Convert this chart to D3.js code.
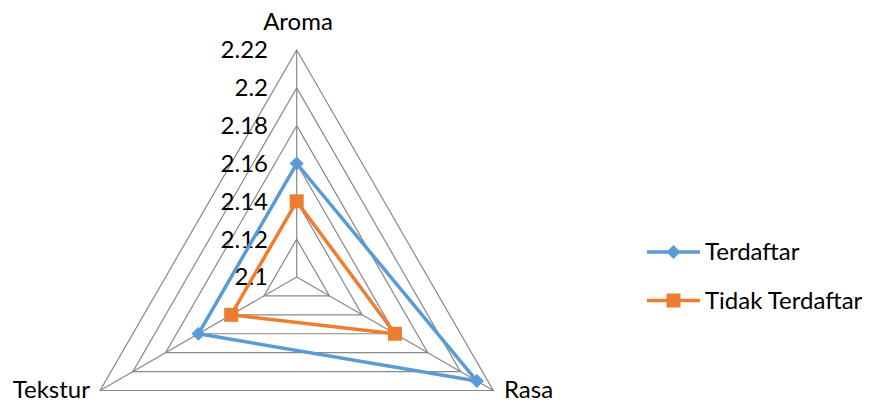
<!DOCTYPE html>
<html><head><meta charset="utf-8">
<script src="https://cdn.jsdelivr.net/npm/d3@7"></script>
<style>body{margin:0;background:#fff}text{font-family:Lato,"Open Sans",sans-serif;fill:#000}</style>
</head><body><svg id="c" width="869" height="403"></svg>
<script>
const categories = ["Aroma", "Rasa", "Tekstur"];
const terdaftar = [2.16, 2.21, 2.16];
const tidakTerdaftar = [2.14, 2.16, 2.14];
const seriesNames = ["Terdaftar", "Tidak Terdaftar"];
const tickValues = [2.1, 2.12, 2.14, 2.16, 2.18, 2.2, 2.22];
const tickLabels = ["2.1", "2.12", "2.14", "2.16", "2.18", "2.2", "2.22"];

const svg = d3.select("#c");
const cx = 296.7, cy = 277, R = 227;
const r = d3.scaleLinear().domain([2.1, 2.22]).range([0, R]);
const ang = d3.scaleBand().domain(categories).range([0, 2 * Math.PI]);
const pt = (c, v) => { const a = ang(c); return [cx + r(v) * Math.sin(a), cy - r(v) * Math.cos(a)]; };

const g = svg.append("g");
// grid rings
tickValues.slice(1).forEach(t => {
  g.append("path").attr("d", d3.line()(categories.map(c => pt(c, t))) + "Z")
    .attr("fill", "none").attr("stroke", "#898989").attr("stroke-width", 1.2);
});
// spokes
categories.forEach(c => {
  const p = pt(c, 2.22);
  g.append("line").attr("x1", cx).attr("y1", cy).attr("x2", p[0]).attr("y2", p[1])
    .attr("stroke", "#898989").attr("stroke-width", 1.2);
});
// tick labels
tickValues.forEach((t, i) => {
  g.append("text").attr("x", 268).attr("y", cy - r(t)).attr("dy", "0.35em")
    .attr("text-anchor", "end").attr("font-size", 24).text(tickLabels[i]);
});
// category labels
g.append("text").attr("x", 298).attr("y", 30).attr("text-anchor", "middle").attr("font-size", 24).text(categories[0]);
g.append("text").attr("x", 504).attr("y", 398).attr("text-anchor", "start").attr("font-size", 24).text(categories[1]);
g.append("text").attr("x", 90).attr("y", 398).attr("text-anchor", "end").attr("font-size", 24).text(categories[2]);

const colors = ["#5B9BD5", "#ED7D31"];
const data = [terdaftar, tidakTerdaftar];
const diamond = (x, y, s) => `M${x},${y - s}L${x + s},${y}L${x},${y + s}L${x - s},${y}Z`;
data.forEach((vals, si) => {
  const pts = categories.map((c, i) => pt(c, vals[i]));
  g.append("path").attr("d", d3.line()(pts) + "Z").attr("fill", "none")
    .attr("stroke", colors[si]).attr("stroke-width", 3.5).attr("stroke-linejoin", "round");
  pts.forEach(p => {
    if (si === 0) g.append("path").attr("d", diamond(p[0], p[1], 7)).attr("fill", colors[si]);
    else g.append("rect").attr("x", p[0] - 7).attr("y", p[1] - 7).attr("width", 14).attr("height", 14).attr("fill", colors[si]);
  });
});
// legend
const ly = [252, 300.5];
seriesNames.forEach((n, si) => {
  const y = ly[si];
  g.append("line").attr("x1", 647).attr("x2", 700).attr("y1", y).attr("y2", y)
    .attr("stroke", colors[si]).attr("stroke-width", 3.5);
  if (si === 0) g.append("path").attr("d", diamond(673.5, y, 7)).attr("fill", colors[si]);
  else g.append("rect").attr("x", 666.5).attr("y", y - 7).attr("width", 14).attr("height", 14).attr("fill", colors[si]);
  g.append("text").attr("x", 705).attr("y", y).attr("dy", "0.35em").attr("font-size", 24).text(n);
});
</script></body></html>
